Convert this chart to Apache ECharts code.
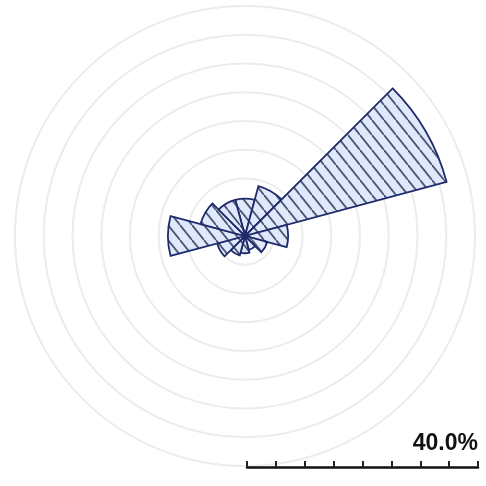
<!DOCTYPE html>
<html>
<head>
<meta charset="utf-8">
<script src="https://cdn.jsdelivr.net/npm/echarts@6/dist/echarts.min.js"></script>
<style>
  html, body { margin: 0; padding: 0; background: #fff; }
  #chart { width: 486px; height: 486px; }
</style>
</head>
<body>
<div id="chart"></div>
<script>
// wind rose: 12 direction sectors, share of observations in %
const directions = ["0°", "30°", "60°", "90°", "120°", "150°", "180°", "210°", "240°", "270°", "300°", "330°"];
const frequency = [6.5, 9, 36.3, 7.5, 4, 2.5, 3, 3.5, 5, 13.4, 8, 6.5];
// scale bar ticks, 5% steps up to 40%
const scaleMax = 40;
const scaleStep = 5;
const scaleLabel = "40.0%";

// diagonal hatch fill, tiled
function hatch() {
  const w = 12, h = 15;
  const c = document.createElement("canvas");
  c.width = w; c.height = h;
  const g = c.getContext("2d");
  g.fillStyle = "#e0e8fb";
  g.fillRect(0, 0, w, h);
  g.strokeStyle = "#4b5574";
  g.lineWidth = 1.8;
  for (let k = -1; k <= 1; k++) {
    g.beginPath();
    g.moveTo(0, k * h);
    g.lineTo(w, k * h + h);
    g.stroke();
  }
  return c;
}

const chart = echarts.init(document.getElementById("chart"));
chart.setOption({
  animation: false,
  title: {
    text: scaleLabel,
    right: 3,
    top: 427,
    textStyle: { fontFamily: "Liberation Sans", fontWeight: "bold", fontSize: 23, color: "#111" },
  },
  polar: { center: [245, 236], radius: 230 },
  angleAxis: {
    type: "category",
    data: directions,
    startAngle: 105,
    clockwise: true,
    axisLine: { show: false },
    axisTick: { show: false },
    axisLabel: { show: false },
    splitLine: { show: false },
  },
  radiusAxis: {
    type: "value",
    min: 0,
    max: scaleMax,
    interval: scaleStep,
    axisLine: { show: false },
    axisTick: { show: false },
    axisLabel: { show: false },
    splitLine: { show: true, lineStyle: { color: "#ececec", width: 2 } },
  },
  grid: { left: 247, top: 440, width: 231, height: 27 },
  xAxis: {
    type: "value",
    min: 0,
    max: scaleMax,
    interval: scaleStep,
    axisLine: { show: true, lineStyle: { color: "#111", width: 2.5 } },
    axisTick: { show: true, inside: true, length: 6, lineStyle: { color: "#222", width: 2 } },
    axisLabel: { show: false },
    splitLine: { show: false },
  },
  yAxis: { type: "value", show: false, min: 0, max: 1 },
  series: [{
    type: "bar",
    coordinateSystem: "polar",
    data: frequency,
    barCategoryGap: "0%",
    itemStyle: {
      color: { image: hatch(), repeat: "repeat" },
      borderColor: "#1f2a6a",
      borderWidth: 1.8,
    },
  }],
});
</script>
</body>
</html>
